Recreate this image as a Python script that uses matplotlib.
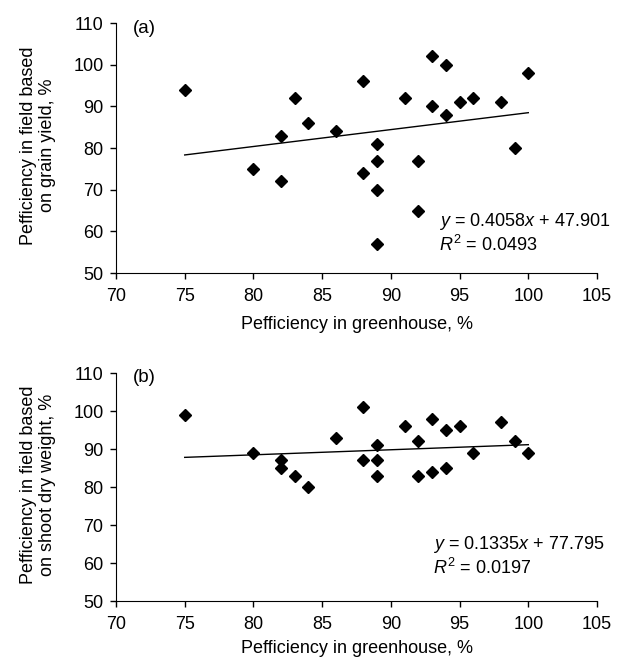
import matplotlib
matplotlib.use("Agg")
import matplotlib.pyplot as plt
import numpy as np

plt.rcParams['font.family'] = ['Liberation Sans', 'DejaVu Sans']
plt.rcParams['mathtext.fontset'] = 'custom'
plt.rcParams['mathtext.rm'] = 'Liberation Sans'
plt.rcParams['mathtext.it'] = 'Liberation Sans:italic'

# panel (a): field efficiency based on grain yield
green_a = [75, 80, 82, 82, 83, 84, 86, 88, 88, 89, 89, 89, 89, 91, 92, 92,
           93, 93, 94, 94, 95, 96, 98, 99, 100]
field_a = [94, 75, 83, 72, 92, 86, 84, 96, 74, 81, 77, 70, 57, 92, 77, 65,
           102, 90, 100, 88, 91, 92, 91, 80, 98]
slope_a, icpt_a, r2_a = 0.4058, 47.901, 0.0493

# panel (b): field efficiency based on shoot dry weight
green_b = [75, 80, 82, 82, 83, 84, 86, 88, 88, 89, 89, 89, 91, 92, 92,
           93, 93, 94, 94, 95, 96, 98, 99, 100]
field_b = [99, 89, 87, 85, 83, 80, 93, 101, 87, 91, 87, 83, 96, 92, 83,
           98, 84, 95, 85, 96, 89, 97, 92, 89]
slope_b, icpt_b, r2_b = 0.1335, 77.795, 0.0197

x_ticks = [70, 75, 80, 85, 90, 95, 100, 105]
y_ticks = [50, 60, 70, 80, 90, 100, 110]

fig = plt.figure(figsize=(6.17, 6.62), dpi=100)
ax_a = fig.add_axes([0.188, 0.5876, 0.7796, 0.3776])
ax_b = fig.add_axes([0.188, 0.0921, 0.7796, 0.3444])

panels = [
    (ax_a, green_a, field_a, slope_a, icpt_a, r2_a, "(a)",
     "Pefficiency in field based\non grain yield, %", 0.672, 0.208, 0.112, -0.205),
    (ax_b, green_b, field_b, slope_b, icpt_b, r2_b, "(b)",
     "Pefficiency in field based\non shoot dry weight, %", 0.658, 0.25, 0.145, -0.21),
]

for ax, gx, fy, m, c, r2, tag, ylab, tx, ty1, ty2, xly in panels:
    ax.plot(gx, fy, linestyle='none', marker='D', markersize=5.8,
            color='black')
    xl = np.array([min(gx), max(gx)])
    ax.plot(xl, m * xl + c, color='black', linewidth=1.0)

    ax.set_xlim(70, 105)
    ax.set_ylim(50, 110)
    ax.set_xticks(x_ticks)
    ax.set_yticks(y_ticks)
    ax.spines['top'].set_visible(False)
    ax.spines['right'].set_visible(False)
    ax.tick_params(axis='both', labelsize=13, length=4, width=1)
    ax.tick_params(axis='x', pad=7)
    ax.tick_params(axis='y', pad=5)

    ax.text(0.035, 0.98, tag, transform=ax.transAxes, fontsize=13.5,
            ha='left', va='center')
    ax.text(tx, ty1, f"$y$ = {m}$x$ + {c}", transform=ax.transAxes,
            fontsize=13, ha='left', va='center', clip_on=False)
    ax.text(tx, ty2, f"$R^2$ = {r2}", transform=ax.transAxes,
            fontsize=13, ha='left', va='center')

    ax.set_ylabel(ylab, fontsize=13, multialignment='center')
    ax.yaxis.set_label_coords(-0.162, 0.51)
    ax.yaxis.label.set_va('center')
    ax.set_xlabel("Pefficiency in greenhouse, %", fontsize=13)
    ax.xaxis.set_label_coords(0.5, xly)
    ax.xaxis.label.set_va('center')

fig.savefig("out.png", dpi=100)
